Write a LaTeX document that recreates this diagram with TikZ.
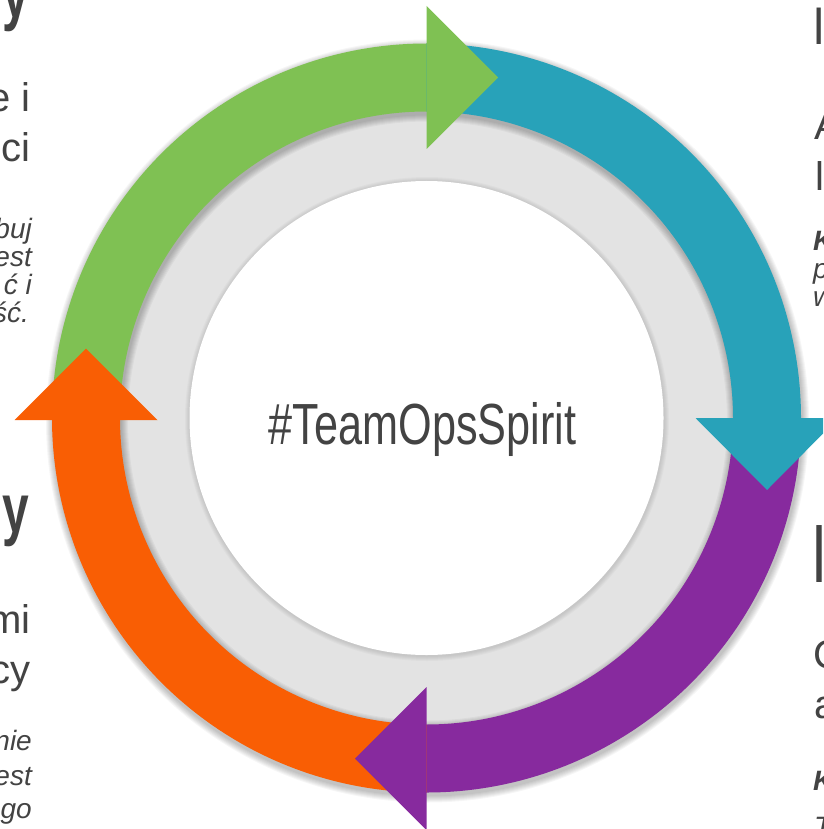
\documentclass[tikz,border=0pt]{standalone}
\usepackage{fontspec}
\setmainfont{Liberation Sans}
\definecolor{cgreen}{HTML}{7FC153}
\definecolor{cteal}{HTML}{28A2B9}
\definecolor{cpurple}{HTML}{872A9E}
\definecolor{corange}{HTML}{F95E04}
\definecolor{cgray}{HTML}{E3E3E3}
\definecolor{ctext}{HTML}{434343}
\tikzset{
  txt/.style={inner sep=0pt, text=ctext},
  ltxt/.style={txt, anchor=base east},
  rtxt/.style={txt, anchor=base west},
  bodyfont/.style={font=\fontsize{40}{40}\selectfont},
  itfont/.style={font=\fontsize{28}{28}\selectfont\itshape},
  bitfont/.style={font=\fontsize{28}{28}\selectfont\itshape\bfseries},
  softshadow/.style={draw=black, draw opacity=0.035},
}
\begin{document}
\begin{tikzpicture}[x=1pt,y=1pt]
\useasboundingbox (0,0) rectangle (823,-829);
\clip (0,0) rectangle (823,-829);
\fill[white] (0,0) rectangle (823,-829);

\begin{scope}[shift={(426.5,-418)}]
  % grey ring and white centre
  \fill[cgray] (0,0) circle (322);
  \foreach \i in {1,...,5}{
    \fill[black, opacity=0.025] (0.5,-1) circle ({237+\i});
  }
  \fill[white] (0,0) circle (237);
  % soft shadow under the ring of arrows
  \foreach \i in {1,...,7}{
    \draw[softshadow, line width={68+2*\i}] (1,-3) circle (340.5);
  }
  % bands (each runs on a little under the head of its own arrow)
  \fill[cgreen] (180:374.5) arc[start angle=180, end angle=89, radius=374.5]
     -- (89:306.5) arc[start angle=89, end angle=180, radius=306.5] -- cycle;
  \fill[cteal] (90:374.5) arc[start angle=90, end angle=-1, radius=374.5]
     -- (-1:306.5) arc[start angle=-1, end angle=90, radius=306.5] -- cycle;
  \fill[cpurple] (0:374.5) arc[start angle=0, end angle=-91, radius=374.5]
     -- (-91:306.5) arc[start angle=-91, end angle=0, radius=306.5] -- cycle;
  \fill[corange] (-90:374.5) arc[start angle=-90, end angle=-181, radius=374.5]
     -- (-181:306.5) arc[start angle=-181, end angle=-90, radius=306.5] -- cycle;
  % heads
  \fill[cgreen] (0,269) -- (0,412) -- (71.5,340.5) -- cycle;
  \fill[cteal] (269,0) -- (412,0) -- (340.5,-72) -- cycle;
  \fill[cpurple] (0,-269) -- (0,-412) -- (-71.5,-340.5) -- cycle;
  \fill[corange] (-269,-2) -- (-412,-2) -- (-340.5,69.5) -- cycle;
\end{scope}

% centre title
\node[txt, anchor=base] (title) at (422.5,-444)
  {\scalebox{0.745}[1]{\fontsize{58}{58}\selectfont\#TeamOpsSpirit}};

% left top
\node[ltxt] (lth) at (29,-18) {\scalebox{0.8}[1.15]{\fontsize{60}{60}\selectfont\bfseries y}};
\node[ltxt, bodyfont] (lt1) at (31,-112) {e i};
\node[ltxt, bodyfont] (lt2) at (31,-162) {ci};
\node[ltxt, itfont] (lt3) at (32,-238) {buj};
\node[ltxt, itfont] (lt4) at (32,-266) {est};
\node[ltxt, itfont] (lt5) at (32,-294) {ć i};
\node[ltxt, itfont] (lt6) at (29,-322) {ść.};

% left bottom
\node[ltxt] (lbh) at (29,-532) {\scalebox{0.8}[1.15]{\fontsize{60}{60}\selectfont\bfseries ny}};
\node[ltxt, bodyfont] (lb1) at (31,-633) {mi};
\node[ltxt, bodyfont] (lb2) at (31,-683) {cy};
\node[ltxt, itfont] (lb3) at (32,-750) {nie};
\node[ltxt, itfont] (lb4) at (32,-785) {est};
\node[ltxt, itfont] (lb5) at (32,-818) {go};

% right top
\node[rtxt] (rth) at (812,-45) {\scalebox{0.8}[1.15]{\fontsize{60}{60}\selectfont ı}};
\node[rtxt, bodyfont] (rt1) at (814,-140) {A};
\node[rtxt, bodyfont] (rt2) at (815,-190) {l};
\node[rtxt, bitfont] (rt3) at (813,-250) {K};
\node[rtxt, itfont] (rt4) at (813,-278) {p};
\node[rtxt, itfont] (rt5) at (813,-306) {w};

% right bottom
\node[rtxt] (rbh) at (811,-582) {\scalebox{0.8}[1.15]{\fontsize{72}{72}\selectfont I}};
\node[rtxt, bodyfont] (rb1) at (813,-668) {C};
\node[rtxt, bodyfont] (rb2) at (814,-718) {a};
\node[rtxt, bitfont] (rb3) at (813,-790) {K};
\node[rtxt, itfont] (rb4) at (814,-836) {T};
\end{tikzpicture}
\end{document}
